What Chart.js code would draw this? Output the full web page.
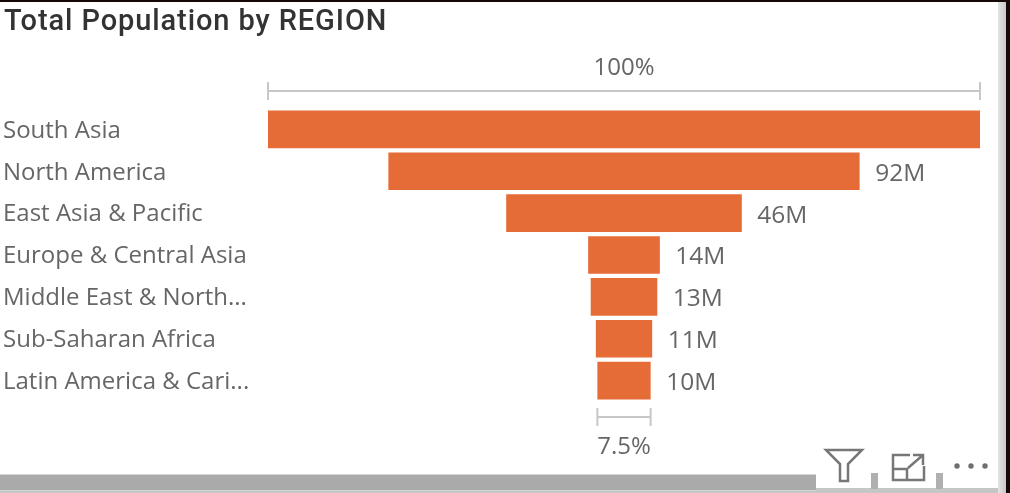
<!DOCTYPE html>
<html><head><meta charset="utf-8">
<script src="https://cdn.jsdelivr.net/npm/chart.js@4"></script>
<style>
html,body{margin:0;padding:0;background:#fff;overflow:hidden}
#w{position:relative;width:1010px;height:493px;overflow:hidden;background:#fff}
canvas{position:absolute;left:0;top:0}
.c{position:absolute}
svg{position:absolute;left:0;top:0}
</style></head><body>
<div id="w">
<canvas id="c" width="1010" height="493"></canvas>
<div class="c" style="left:0;top:488px;width:1000px;height:5px;background:#c6c6c6"></div>
<div class="c" style="left:0;top:474px;width:816px;height:17px;background:#aaa;border-top:1px solid #d4d4d4;border-bottom:1px solid #d4d4d4;box-sizing:border-box"></div>
<div class="c" style="left:871px;top:473px;width:7px;height:16px;background:#b0b0b0"></div>
<div class="c" style="left:936px;top:473px;width:7px;height:16px;background:#b0b0b0"></div>
<div class="c" style="left:998px;top:2px;width:8px;height:491px;background:linear-gradient(90deg,#e4e4e4,#c8c8c8)"></div>
<div class="c" style="left:0;top:0;width:1010px;height:2px;background:#170808"></div>
<div class="c" style="left:1006px;top:0;width:4px;height:493px;background:#170808"></div>
<svg width="1010" height="493" fill="none" stroke="#777" stroke-width="2.5">
<path d="M826 450H862L848 464V481H840V464Z"/>
<path d="M910 455H893V480H924V466M893 469H907V480M908 468L923 455M913 455H923V465"/>
<g fill="#6f6f6f" stroke="none"><circle cx="957" cy="466" r="2.7"/><circle cx="971" cy="466" r="2.7"/><circle cx="985" cy="466" r="2.7"/></g>
</svg>
</div>
<script>
const categories = ["South Asia","North America","East Asia & Pacific","Europe & Central Asia","Middle East & North...","Sub-Saharan Africa","Latin America & Cari..."];
const values = [139,92,46,14,13,11,10.4];
const valueLabels = ["","92M","46M","14M","13M","11M","10M"];
const topPercent = "100%";
const bottomPercent = "7.5%";
const titleText = "Total Population by REGION";
const half = values[0]/2;

const extras = {
  id:'extras',
  afterDatasetsDraw(chart){
    const {ctx,scales:{x,y}} = chart;
    ctx.save();
    ctx.fillStyle='#666';
    ctx.font='24.5px "Open Sans"';
    ctx.textBaseline='middle';
    ctx.textAlign='left';
    values.forEach((v,i)=>{
      if(valueLabels[i]) ctx.fillText(valueLabels[i], x.getPixelForValue(v/2)+15.5, y.getPixelForValue(i)+2.5);
    });
    const bracket=(v,py,label,ly)=>{
      const a=x.getPixelForValue(-v/2), b=x.getPixelForValue(v/2);
      ctx.strokeStyle='#c8c8c8'; ctx.lineWidth=2;
      ctx.beginPath();
      ctx.moveTo(a,py);ctx.lineTo(b,py);
      ctx.moveTo(a,py-9);ctx.lineTo(a,py+9);
      ctx.moveTo(b,py-9);ctx.lineTo(b,py+9);
      ctx.stroke();
      ctx.fillStyle='#666';ctx.textAlign='center';
      ctx.font='24px "Open Sans"';
      ctx.fillText(label,(a+b)/2,ly);
    };
    bracket(values[0],91,topPercent,68);
    bracket(values[values.length-1],417,bottomPercent,447);
    ctx.restore();
  }
};

new Chart(document.getElementById('c'),{
  type:'bar',
  data:{labels:categories,datasets:[{
    data:values.map(v=>[-v/2,v/2]),
    backgroundColor:'#E66C37',
    borderWidth:0,
    barPercentage:1,
    categoryPercentage:0.9
  }]},
  options:{
    indexAxis:'y',
    responsive:false,
    animation:false,
    layout:{padding:{left:3,right:30,top:108.5,bottom:91.5}},
    scales:{
      x:{display:false,min:-half,max:half},
      y:{
        grid:{display:false},
        border:{display:false},
        afterFit(s){s.width=265;},
        ticks:{crossAlign:'far',color:'#666',padding:0,autoSkip:false,labelOffset:1.5,font:{family:'"Open Sans"',size:24}}
      }
    },
    plugins:{
      legend:{display:false},
      tooltip:{enabled:false},
      title:{display:false}
    }
  },
  plugins:[extras,{
    id:'head',
    afterDraw(chart){
      const {ctx}=chart;
      ctx.save();
      ctx.fillStyle='#333';
      ctx.font='500 29px "Roboto"';
      ctx.letterSpacing='0.9px';
      ctx.textBaseline='middle';
      ctx.textAlign='left';
      ctx.fillText(titleText,4,23);
      ctx.restore();
    }
  }]
});
</script>
</body></html>
